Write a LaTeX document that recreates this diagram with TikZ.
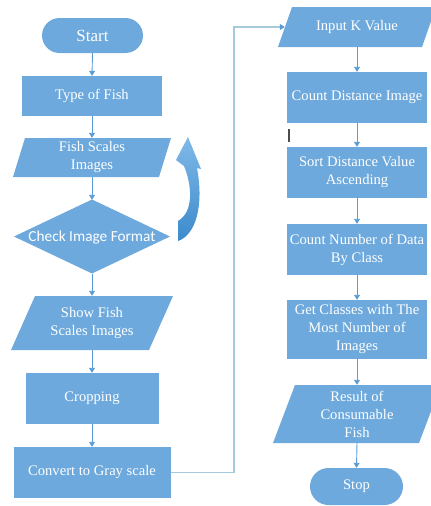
\documentclass[tikz,border=0pt]{standalone}
\usepackage{fontspec}
\setmainfont{Liberation Serif}
\newfontfamily\carlitofont{Carlito}
\usetikzlibrary{arrows.meta}
\definecolor{boxblue}{RGB}{109,169,220}
\definecolor{arrowblue}{RGB}{91,155,213}
\definecolor{linkblue}{RGB}{164,202,220}
\definecolor{curvedark}{RGB}{60,138,204}
\definecolor{curvelight}{RGB}{128,185,232}
\newcommand{\paraShape}[7]{%
  \fill[boxblue] (#2-#4+#6,#3-#5) -- (#2+#4+#6,#3-#5) -- (#2+#4-#6,#3+#5) -- (#2-#4-#6,#3+#5) -- cycle;
  \node[txt, minimum width=2*#4, minimum height=2*#5] (#1) at (#2,#3) {#7};%
}
\tikzset{
  txt/.style={text=white, font=\fontsize{14.6}{18}\selectfont, align=center, inner sep=0pt},
  procbox/.style={txt, fill=boxblue, rectangle},
  termbox/.style={txt, fill=boxblue, rectangle},
  flow/.style={draw=arrowblue, line width=0.9pt, -{Triangle[length=5pt,width=6pt]}},
  link/.style={draw=linkblue, line width=1.2pt, -{Triangle[length=5pt,width=6pt,color=arrowblue]}}
}
\begin{document}
\begin{tikzpicture}[x=1pt,y=-1pt]
\useasboundingbox (0,0) rectangle (431,506);
% left column
\node[termbox, minimum width=101, minimum height=35, rounded corners=17.5pt, font=\fontsize{17}{20}\selectfont] (start) at (92.5,35.5) {Start};
\node[procbox, minimum width=140, minimum height=40] (type) at (92,96) {Type of Fish};
\paraShape{fish}{92}{157.5}{73}{19.5}{6}{Fish Scales\\Images}
\fill[boxblue] (92,199.5) -- (170,236.5) -- (92,273.5) -- (14,236.5) -- cycle;
\node[txt, minimum width=156, minimum height=74, font=\carlitofont\fontsize{15.3}{18}\selectfont] (check) at (92,237) {Check Image Format};
\paraShape{show}{92}{323}{69}{27}{12}{Show Fish\\Scales Images}
\node[procbox, minimum width=133, minimum height=51] (crop) at (92,398.5) {Cropping};
\node[procbox, minimum width=157, minimum height=51] (gray) at (92,472.5) {Convert to Gray scale};
% curved arrow
\shade[top color=curvelight, bottom color=curvedark]
  (178,241) .. controls (196,235) and (204,205) .. (197,168) -- (201,169) -- (188,137) -- (176,160) -- (184,166)
  .. controls (192,185) and (194,212) .. (178,221) -- cycle;
% right column
\paraShape{input}{357}{27}{72}{20}{7}{Input K Value}
\node[procbox, minimum width=140, minimum height=51] (dist) at (357,97.5) {Count Distance Image};
\node[procbox, minimum width=140, minimum height=51] (sort) at (357,172.5) {Sort Distance Value\\Ascending};
\node[procbox, minimum width=140, minimum height=51] (count) at (357,249.5) {Count Number of Data\\By Class};
\node[procbox, minimum width=140, minimum height=59] (get) at (357,329.5) {Get Classes with The\\Most Number of\\Images};
\paraShape{result}{357}{414}{73}{29}{11}{Result of\\Consumable\\Fish}
\node[termbox, minimum width=93, minimum height=37, rounded corners=18.5pt] (stop) at (356.5,486.5) {Stop};
% cursor mark
\draw[line width=1.3pt, black!70] (289,129) -- (289,142);
% connectors
\draw[flow] (start.south) -- (type.north);
\draw[flow] (type.south) -- (fish.north);
\draw[flow] (fish.south) -- (check.north);
\draw[flow] (check.south) -- (show.north);
\draw[flow] (show.south) -- (crop.north);
\draw[flow] (crop.south) -- (gray.north);
\coordinate (bend) at (234,27);
\draw[link] (gray.east) -| (bend) -- (input.west);
\draw[flow] (input.south) -- (dist.north);
\draw[flow] (dist.south) -- (sort.north);
\draw[flow] (sort.south) -- (count.north);
\draw[flow] (count.south) -- (get.north);
\draw[flow] (get.south) -- (result.north);
\draw[flow] (result.south) -- (stop.north);
\end{tikzpicture}
\end{document}
